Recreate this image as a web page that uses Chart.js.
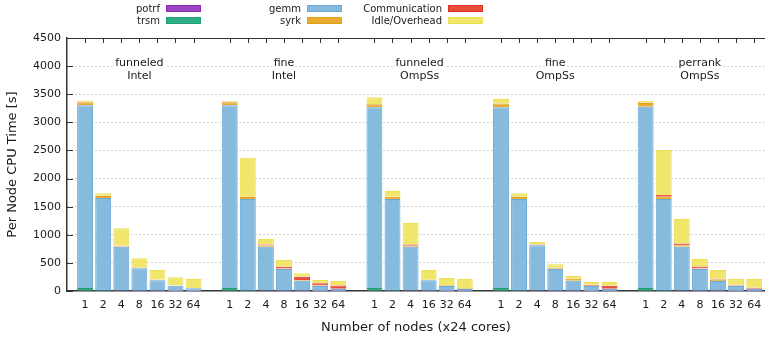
<!DOCTYPE html>
<html>
<head>
<meta charset="utf-8">
<script src="https://cdn.jsdelivr.net/npm/chart.js@4"></script>
<style>
  html, body { margin: 0; padding: 0; background: #fff; overflow: hidden; }
  #wrap { position: relative; width: 765px; height: 342px; }
</style>
</head>
<body>
<div id="wrap"><canvas id="cpuChart"></canvas></div>
<script>
// run variants and node counts (funneled OmpSs has no 8-node run)
const groupNames = [['funneled', 'Intel'], ['fine', 'Intel'], ['funneled', 'OmpSs'], ['fine', 'OmpSs'], ['perrank', 'OmpSs']];
const groupNodes = [
  [1, 2, 4, 8, 16, 32, 64],
  [1, 2, 4, 8, 16, 32, 64],
  [1, 2, 4, 16, 32, 64],
  [1, 2, 4, 8, 16, 32, 64],
  [1, 2, 4, 8, 16, 32, 64]
];

// per node CPU time [s], one value per bar, groups in order
const potrf = [4, 2, 1, 1, 0.5, 0.3, 0.2,   4, 2, 1, 1, 0.5, 0.3, 0.2,   4, 2, 1, 0.5, 0.3, 0.2,   4, 2, 1, 1, 0.5, 0.3, 0.2,   4, 2, 1, 1, 0.5, 0.3, 0.2];
const trsm  = [50, 18, 8, 4, 2, 1, 0.5,     50, 18, 8, 4, 2, 1, 0.5,     50, 18, 8, 2, 1, 0.5,       50, 18, 8, 4, 2, 1, 0.5,     50, 18, 8, 4, 2, 1, 0.5];
const gemm  = [3250, 1635, 780, 399, 190, 92, 46,   3250, 1617, 780, 386, 181, 88, 36,   3214, 1617, 780, 188, 88, 36,   3214, 1617, 804, 386, 181, 88, 36,   3225, 1617, 780, 386, 176, 88, 36];
const syrk  = [55, 35, 18, 12, 8, 6, 5,     55, 35, 20, 8, 14, 8, 5,     55, 38, 18, 7, 12, 14,      65, 35, 10, 14, 30, 6, 5,    65, 40, 26, 10, 25, 8, 3];
const comm  = [8, 3, 4, 3, 5, 2, 2,         8, 6, 20, 33, 57, 42, 55,    3, 2, 18, 4, 2, 2,          6, 5, 7, 10, 5, 17, 53,      6, 30, 30, 35, 15, 12, 20];
const idle  = [20, 47, 304, 162, 168, 142, 160,   12, 694, 96, 119, 60, 57, 82,   120, 102, 385, 171, 128, 160,   77, 61, 42, 60, 48, 48, 65,   30, 801, 436, 133, 155, 105, 153];

const yTicks = [0, 500, 1000, 1500, 2000, 2500, 3000, 3500, 4000, 4500];
const labelRows = [4060, 3820]; // group label lines, in y units

const seriesNames = ['potrf', 'trsm', 'gemm', 'syrk', 'Communication', 'Idle/Overhead'];
const fills   = ['#9a45c4', '#2fae88', '#86bbdd', '#e8ad30', '#e84c3c', '#f1e66c'];
const borders = ['#8a2cb8', '#1f9e78', '#6aaad6', '#e0a018', '#e0301f', '#ece052'];

// x slot for each bar, one empty slot between groups
const xPos = [], xLabel = {}, groupCenters = [];
let slot = 1;
groupNodes.forEach(nodes => {
  const first = slot;
  nodes.forEach(n => { xLabel[slot] = String(n); xPos.push(slot); slot++; });
  groupCenters.push((first + slot - 1) / 2);
  slot++;
});

const toPoints = vals => vals.map((v, i) => ({ x: xPos[i], y: v }));
const series = [potrf, trsm, gemm, syrk, comm, idle];

Chart.defaults.font.family = '"DejaVu Sans", sans-serif';
Chart.defaults.color = '#1a1a1a';

const decorPlugin = {
  id: 'decor',
  afterDatasetsDraw(chart) {
    const { ctx, chartArea: a, scales: { x, y } } = chart;
    ctx.save();
    ctx.strokeStyle = '#333';
    ctx.lineWidth = 1;
    ctx.beginPath();
    ctx.moveTo(a.left, a.top + 0.5);
    ctx.lineTo(a.right, a.top + 0.5);
    yTicks.forEach(v => {
      const py = Math.round(y.getPixelForValue(v)) + 0.5;
      ctx.moveTo(a.left, py);
      ctx.lineTo(a.left + 6, py);
    });
    xPos.forEach(v => {
      const px = Math.round(x.getPixelForValue(v)) + 0.5;
      ctx.moveTo(px, a.top);
      ctx.lineTo(px, a.top + 5);
    });
    ctx.stroke();

    // group labels
    ctx.font = '11px "DejaVu Sans"';
    ctx.textAlign = 'center';
    ctx.textBaseline = 'middle';
    groupNames.forEach((lines, i) => {
      const cx = x.getPixelForValue(groupCenters[i]);
      lines.forEach((t, j) => {
        const cy = y.getPixelForValue(labelRows[j]);
        const w = ctx.measureText(t).width;
        ctx.fillStyle = '#fff';
        ctx.fillRect(cx - w / 2 - 1, cy - 6, w + 2, 12);
        ctx.fillStyle = '#1a1a1a';
        ctx.fillText(t, cx, cy);
      });
    });

    // legend: 3 columns x 2 rows, label left of the sample box
    const colX = [166, 307, 448];
    const rowY = [8.5, 20.5];
    ctx.font = '10px "DejaVu Sans"';
    ctx.textAlign = 'right';
    chart.data.datasets.forEach((ds, i) => {
      const bx = colX[Math.floor(i / 2)];
      const by = rowY[i % 2];
      ctx.fillStyle = ds.backgroundColor;
      ctx.fillRect(bx, by - 3.5, 35, 7);
      ctx.strokeStyle = ds.borderColor;
      ctx.strokeRect(bx + 0.5, by - 3, 34, 6);
      ctx.fillStyle = '#1a1a1a';
      ctx.fillText(ds.label, bx - 6, by + 0.5);
    });
    ctx.restore();
  }
};

new Chart(document.getElementById('cpuChart'), {
  type: 'bar',
  data: {
    datasets: series.map((vals, i) => ({
      label: seriesNames[i],
      data: toPoints(vals),
      backgroundColor: fills[i],
      borderColor: borders[i],
      borderWidth: 1,
      barPercentage: 0.88,
      categoryPercentage: 1
    }))
  },
  options: {
    responsive: true,
    maintainAspectRatio: false,
    animation: false,
    layout: { autoPadding: false, padding: { top: 38, left: 0, right: 0, bottom: 0 } },
    plugins: {
      legend: { display: false },
      tooltip: { enabled: false }
    },
    scales: {
      x: {
        type: 'linear',
        stacked: true,
        offset: false,
        min: 0,
        max: 38.6,
        afterBuildTicks: scale => { scale.ticks = xPos.map(v => ({ value: v })); },
        afterFit: scale => { scale.height = 51; scale.paddingLeft = 0; scale.paddingRight = 0; },
        ticks: {
          autoSkip: false,
          maxRotation: 0,
          padding: 8,
          font: { size: 11 },
          callback: v => xLabel[v] || ''
        },
        grid: { display: false, drawTicks: false },
        border: { display: true, color: '#333', width: 1.5 },
        title: {
          display: true,
          text: 'Number of nodes (x24 cores)',
          font: { size: 13 },
          padding: { top: 0, bottom: 7 }
        }
      },
      y: {
        stacked: true,
        min: 0,
        max: 4500,
        afterBuildTicks: scale => { scale.ticks = yTicks.map(v => ({ value: v })); },
        afterFit: scale => { scale.width = 67; },
        ticks: { padding: 6, font: { size: 11 }, callback: v => String(v) },
        grid: {
          drawTicks: false,
          color: c => (c.tick && (c.tick.value === 0 || c.tick.value === 4500)) ? 'rgba(0,0,0,0)' : '#a8a8a8',
          lineWidth: 1
        },
        border: { display: true, color: '#333', width: 1.5, dash: [1, 3] },
        title: {
          display: true,
          text: 'Per Node CPU Time [s]',
          font: { size: 13 },
          padding: { top: 5, bottom: 0 }
        }
      }
    }
  },
  plugins: [decorPlugin]
});
</script>
</body>
</html>
